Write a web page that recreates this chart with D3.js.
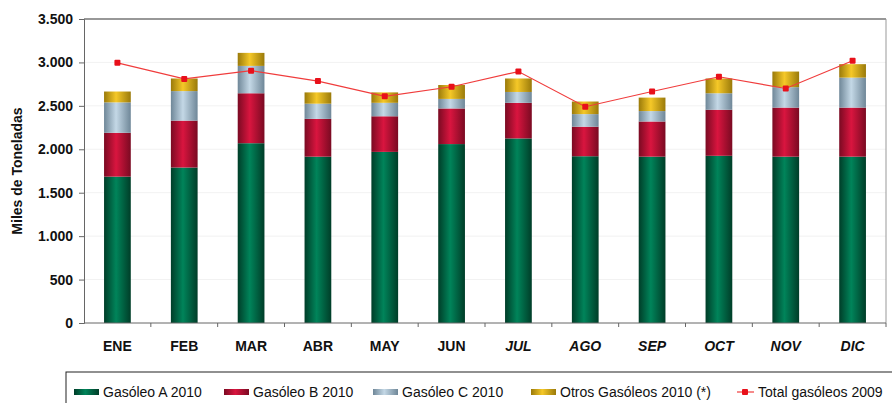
<!DOCTYPE html>
<html>
<head>
<meta charset="utf-8">
<script src="https://cdn.jsdelivr.net/npm/d3@7"></script>
<style>
	body { margin: 0; background: #fff; }
	svg { display: block; font-family: "Liberation Sans", Arial, sans-serif; }
</style>
</head>
<body>
<main></main>
<script>
const months = ['ENE', 'FEB', 'MAR', 'ABR', 'MAY', 'JUN', 'JUL', 'AGO', 'SEP', 'OCT', 'NOV', 'DIC'];
const italicMonths = ['JUL', 'AGO', 'SEP', 'OCT', 'NOV', 'DIC'];
const gasoleoA = [1685, 1790, 2070, 1915, 1970, 2060, 2125, 1920, 1915, 1925, 1915, 1915];
const gasoleoB = [505, 540, 575, 435, 410, 410, 410, 340, 405, 530, 565, 565];
const gasoleoC = [350, 340, 315, 175, 155, 110, 125, 145, 120, 190, 235, 345];
const otros = [125, 145, 150, 130, 120, 160, 155, 145, 155, 170, 180, 155];
const total2009 = [2995, 2810, 2905, 2785, 2610, 2720, 2895, 2490, 2665, 2835, 2700, 3020];
const yTicks = [0, 500, 1000, 1500, 2000, 2500, 3000, 3500];

const seriesNames = ['Gasóleo A 2010', 'Gasóleo B 2010', 'Gasóleo C 2010', 'Otros Gasóleos 2010 (*)'];
const seriesKeys = ['a', 'b', 'c', 'o'];
const seriesColors = {
	a: ['#003d28', '#00845a', '#003d28'],
	b: ['#7a0a22', '#d9153f', '#7a0a22'],
	c: ['#6f8798', '#c4d8e6', '#6f8798'],
	o: ['#9a7a0a', '#f5c828', '#9a7a0a']
};

const data = months.map((m, i) => ({
	month: m, a: gasoleoA[i], b: gasoleoB[i], c: gasoleoC[i], o: otros[i], total: total2009[i]
}));

const W = 892, H = 403;
const plotLeft = 84, plotRight = 886, plotTop = 19, plotBottom = 323;

const svg = d3.select('main').append('svg')
	.attr('width', W)
	.attr('height', H);

const defs = svg.append('defs');
seriesKeys.forEach(k => {
	const g = defs.append('linearGradient')
		.attr('id', 'grad-' + k)
		.attr('x1', '0%').attr('x2', '100%')
		.attr('y1', '0%').attr('y2', '0%');
	g.append('stop').attr('offset', '0%').attr('stop-color', seriesColors[k][0]);
	g.append('stop').attr('offset', '45%').attr('stop-color', seriesColors[k][1]);
	g.append('stop').attr('offset', '100%').attr('stop-color', seriesColors[k][2]);
});

const xScale = d3.scaleBand()
	.range([plotLeft, plotRight])
	.domain(months)
	.paddingInner(0.6)
	.paddingOuter(0.3);

const xCat = d3.scaleBand()
	.range([plotLeft, plotRight])
	.domain(months);

const yScale = d3.scaleLinear()
	.range([plotBottom, plotTop])
	.domain([0, 3500]);

// faint grid
svg.append('g')
	.selectAll('line')
	.data(yTicks.slice(1, -1))
	.enter()
	.append('line')
	.attr('x1', plotLeft).attr('x2', plotRight)
	.attr('y1', d => yScale(d)).attr('y2', d => yScale(d))
	.attr('stroke', '#f2f2f2');

// plot frame
svg.append('line')
	.attr('x1', plotLeft).attr('x2', plotRight)
	.attr('y1', plotTop).attr('y2', plotTop)
	.attr('stroke', '#333').attr('stroke-width', 1.2);
svg.append('line')
	.attr('x1', plotRight).attr('x2', plotRight)
	.attr('y1', plotTop).attr('y2', plotBottom)
	.attr('stroke', '#999');

// stacked bars
const stack = d3.stack().keys(seriesKeys);
const stacked = stack(data);

svg.append('g')
	.selectAll('g')
	.data(stacked)
	.enter()
	.append('g')
	.attr('fill', d => `url(#grad-${d.key})`)
	.selectAll('rect')
	.data(d => d)
	.enter()
	.append('rect')
	.attr('x', d => xScale(d.data.month))
	.attr('width', xScale.bandwidth())
	.attr('y', d => yScale(d[1]))
	.attr('height', d => yScale(d[0]) - yScale(d[1]));

// y axis
const yAxis = svg.append('g')
	.attr('transform', `translate(${plotLeft}, 0)`)
	.call(d3.axisLeft(yScale)
		.tickValues(yTicks)
		.tickSize(5)
		.tickPadding(6)
		.tickFormat(d => d3.format(',')(d).replace(/,/g, '.')));
yAxis.select('.domain').attr('stroke', '#666');
yAxis.selectAll('.tick line').attr('stroke', '#666');
yAxis.selectAll('text')
	.attr('font-size', 14)
	.attr('font-weight', 'bold')
	.attr('fill', '#111')
	.attr('font-family', '"Liberation Sans", Arial, sans-serif');

// x axis with ticks between categories
const xAxisG = svg.append('g');
xAxisG.append('line')
	.attr('x1', plotLeft).attr('x2', plotRight)
	.attr('y1', plotBottom).attr('y2', plotBottom)
	.attr('stroke', '#666');
xAxisG.selectAll('.xtick')
	.data(months.slice(1).concat(['end']))
	.enter()
	.append('line')
	.attr('x1', (d, i) => i < 11 ? xCat(d) : plotRight)
	.attr('x2', (d, i) => i < 11 ? xCat(d) : plotRight)
	.attr('y1', plotBottom).attr('y2', plotBottom + 4)
	.attr('stroke', '#666');
xAxisG.selectAll('.xlabel')
	.data(months)
	.enter()
	.append('text')
	.attr('x', d => xCat(d) + xCat.bandwidth() / 2)
	.attr('y', 351)
	.attr('text-anchor', 'middle')
	.attr('font-size', 14)
	.attr('font-weight', 'bold')
	.attr('font-style', d => italicMonths.includes(d) ? 'italic' : 'normal')
	.attr('fill', '#111')
	.text(d => d);

// total 2009 line
const line = d3.line()
	.x(d => xCat(d.month) + xCat.bandwidth() / 2)
	.y(d => yScale(d.total));

svg.append('path')
	.datum(data)
	.attr('fill', 'none')
	.attr('stroke', '#f03c3c')
	.attr('stroke-width', 1.2)
	.attr('d', line);

svg.append('g')
	.selectAll('rect')
	.data(data)
	.enter()
	.append('rect')
	.attr('x', d => xCat(d.month) + xCat.bandwidth() / 2 - 3)
	.attr('y', d => yScale(d.total) - 3)
	.attr('width', 6)
	.attr('height', 6)
	.attr('rx', 1)
	.attr('fill', '#e8101a');

// y axis title
svg.append('text')
	.attr('transform', `translate(22, ${(plotTop + plotBottom) / 2}) rotate(-90)`)
	.attr('text-anchor', 'middle')
	.attr('font-size', 14)
	.attr('font-weight', 'bold')
	.attr('fill', '#111')
	.text('Miles de Toneladas');

// legend
const legend = svg.append('g');
legend.append('rect')
	.attr('x', 66).attr('y', 372)
	.attr('width', 860).attr('height', 60)
	.attr('fill', 'none')
	.attr('stroke', '#222');

const legendX = [74, 224, 373, 531];
seriesKeys.forEach((k, i) => {
	legend.append('rect')
		.attr('x', legendX[i]).attr('y', 389)
		.attr('width', 25).attr('height', 6)
		.attr('fill', `url(#grad-${k})`);
	legend.append('text')
		.attr('x', legendX[i] + 29).attr('y', 397)
		.attr('font-size', 14)
		.attr('fill', '#111')
		.text(seriesNames[i]);
});
legend.append('line')
	.attr('x1', 737).attr('x2', 754)
	.attr('y1', 392).attr('y2', 392)
	.attr('stroke', '#f03c3c').attr('stroke-width', 1.2);
legend.append('rect')
	.attr('x', 742).attr('y', 389)
	.attr('width', 6).attr('height', 6)
	.attr('rx', 1)
	.attr('fill', '#e8101a');
legend.append('text')
	.attr('x', 758).attr('y', 397)
	.attr('font-size', 14)
	.attr('fill', '#111')
	.text('Total gasóleos 2009');
</script>
</body>
</html>
